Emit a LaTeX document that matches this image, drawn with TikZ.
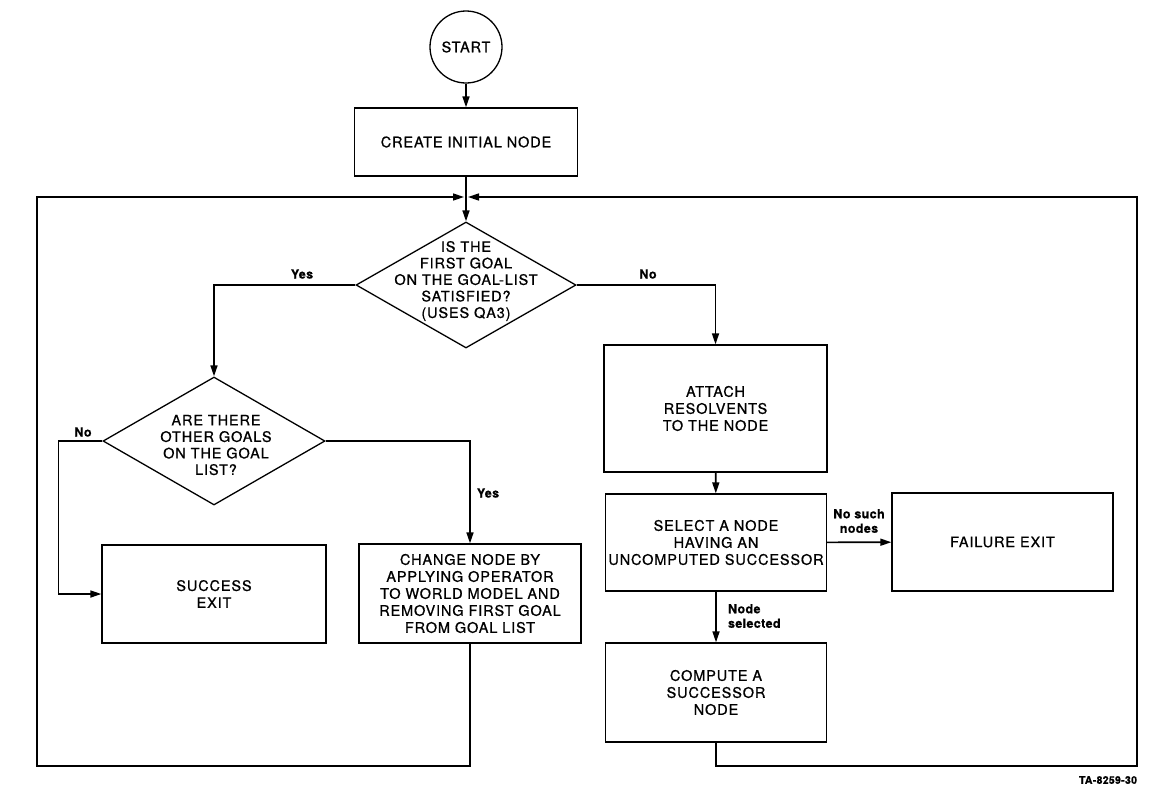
\documentclass[tikz,border=0pt]{standalone}
\usepackage{fontspec}
\setmainfont{TeX Gyre Heros}[LetterSpace=6,FakeBold=0.8]
\newfontfamily\labfont{TeX Gyre Heros}[LetterSpace=3,FakeBold=0.8]
\usetikzlibrary{shapes.geometric,arrows.meta}
\begin{document}
\begin{tikzpicture}[x=1pt,y=-1pt,
  line width=1.6pt,
  every node/.style={line width=1.3pt},
  box/.style={draw,rectangle,inner sep=0pt,align=center,font=\fontsize{14.5}{17}\selectfont},
  dia/.style={draw,diamond,inner sep=0pt},
  diatext/.style={align=center,font=\fontsize{14.5}{16.5}\selectfont},
  lab/.style={font=\labfont\fontsize{12.5}{14.5}\selectfont\bfseries,align=center},
  arr/.style={-{Triangle[length=11pt,width=7pt]}},
  conn/.style={line width=1.6pt}
]
\useasboundingbox (0,0) rectangle (1158,796);

\node[draw,circle,minimum size=72pt,inner sep=0pt,font=\fontsize{14.5}{17}\selectfont] (start) at (466,47) {START};
\node[box,minimum width=223pt,minimum height=68pt] (create) at (466,142) {CREATE INITIAL NODE};

\node[dia,minimum width=220pt,minimum height=126pt] (d1) at (466,285) {};
\node[diatext] (d1t) at (466,281) {IS THE\\FIRST GOAL\\ON THE GOAL-LIST\\SATISFIED?\\(USES QA3)};

\node[dia,minimum width=222pt,minimum height=128pt] (d2) at (214,441) {};
\node[diatext] (d2t) at (216,445) {ARE THERE\\OTHER GOALS\\ON THE GOAL\\LIST?};

\node[box,minimum width=224pt,minimum height=98pt] (success) at (214,594) {SUCCESS\\EXIT};
\node[box,minimum width=222pt,minimum height=99pt] (change) at (470,593.5) {CHANGE NODE BY\\APPLYING OPERATOR\\TO WORLD MODEL AND\\REMOVING FIRST GOAL\\FROM GOAL LIST};

\node[box,minimum width=223pt,minimum height=127pt] (attach) at (715.5,408.5) {ATTACH\\RESOLVENTS\\TO THE NODE};
\node[box,minimum width=221pt,minimum height=97pt] (select) at (716,542.5) {SELECT A NODE\\HAVING AN\\UNCOMPUTED SUCCESSOR};
\node[box,minimum width=221pt,minimum height=98pt] (failure) at (1002.5,542) {FAILURE EXIT};
\node[box,minimum width=221pt,minimum height=99pt] (compute) at (716,692.5) {COMPUTE A\\SUCCESSOR\\NODE};

\coordinate (j) at (466,197);
\coordinate (lb) at (37,766);
\coordinate (rb) at (1137,766);

% connectors
\draw[conn,arr] (start) -- (create);
\draw[conn,arr] (create) -- (d1.north);
\draw[conn,arr,shorten >=2pt] (change.south) |- (lb) |- (j);
\draw[conn,arr,shorten >=2pt] (compute.south) |- (rb) |- (j);
\draw[conn,arr] (d1.west) -| (d2.north);
\draw[conn,arr] (d1.east) -| (attach.north);
\draw[conn,arr] (d2.west) -- ++(-44,0) |- (success.west);
\draw[conn,arr] (d2.east) -| (change.north);
\draw[conn,arr] (attach) -- (select);
\draw[conn,arr] (select) -- (failure);
\draw[conn,arr] (select) -- (compute);

% labels
\node[lab] (yes1) at (302,274) {Yes};
\node[lab] (no1) at (648,274) {No};
\node[lab] (no2) at (83,432) {No};
\node[lab] (yes2) at (488,493) {Yes};
\node[lab] (nosuch) at (859,521) {No such\\nodes};
\node[lab,align=left,anchor=west] (nodesel) at (724,616) {Node\\selected};
\node[font=\labfont\fontsize{10.5}{12}\selectfont\bfseries] (ta) at (1108,780) {TA-8259-30};
\end{tikzpicture}
\end{document}
